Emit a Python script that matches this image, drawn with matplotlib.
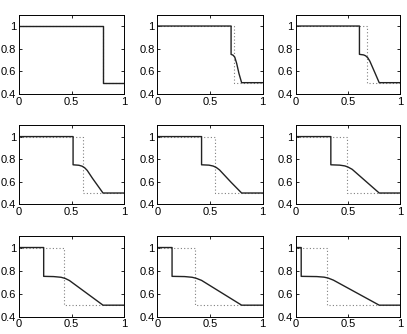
import matplotlib
matplotlib.use("Agg")
import matplotlib.pyplot as plt

plt.rcParams['font.family'] = ['Liberation Sans', 'DejaVu Sans']

# Dotted (initial) step position per panel
dotted_jump = [0.80, 0.73, 0.68, 0.61, 0.55, 0.49, 0.425, 0.36, 0.30]

# Solid curves
solid_x = [
    [0, 0.80, 0.80, 1.0],
    [0, 0.70, 0.70, 0.72, 0.735, 0.753, 0.775, 0.80, 1.0],
    [0, 0.61, 0.61, 0.65, 0.67, 0.69, 0.71, 0.76, 0.80, 1.0],
    [0, 0.515, 0.515, 0.57, 0.60, 0.625, 0.65, 0.70, 0.80, 1.0],
    [0, 0.42, 0.42, 0.49, 0.53, 0.56, 0.59, 0.70, 0.80, 1.0],
    [0, 0.335, 0.335, 0.42, 0.47, 0.50, 0.54, 0.80, 1.0],
    [0, 0.235, 0.235, 0.33, 0.40, 0.44, 0.48, 0.80, 1.0],
    [0, 0.14, 0.14, 0.26, 0.33, 0.37, 0.42, 0.80, 1.0],
    [0, 0.05, 0.05, 0.20, 0.27, 0.31, 0.36, 0.80, 1.0],
]
solid_y = [
    [1, 1, 0.5, 0.5],
    [1, 1, 0.75, 0.742, 0.725, 0.67, 0.58, 0.5, 0.5],
    [1, 1, 0.75, 0.745, 0.737, 0.72, 0.69, 0.585, 0.5, 0.5],
    [1, 1, 0.75, 0.746, 0.738, 0.724, 0.70, 0.63, 0.5, 0.5],
    [1, 1, 0.75, 0.747, 0.739, 0.726, 0.705, 0.595, 0.5, 0.5],
    [1, 1, 0.75, 0.747, 0.74, 0.73, 0.71, 0.5, 0.5],
    [1, 1, 0.75, 0.748, 0.742, 0.732, 0.714, 0.5, 0.5],
    [1, 1, 0.75, 0.748, 0.742, 0.733, 0.715, 0.5, 0.5],
    [1, 1, 0.75, 0.748, 0.743, 0.735, 0.717, 0.5, 0.5],
]

x_ticks = [0, 0.5, 1]
x_labels = ['0', '0.5', '1']
y_ticks = [0.4, 0.6, 0.8, 1.0]
y_labels = ['0.4', '0.6', '0.8', '1']

W, H = 407, 334
fig = plt.figure(figsize=(W / 100, H / 100), dpi=100)

col_px = [(19, 124), (157.3, 262.7), (296, 400)]
row_px = [(14.7, 94), (125.3, 204.3), (236, 316.7)]

for i in range(9):
    r, c = divmod(i, 3)
    x0, x1 = col_px[c]
    t, b = row_px[r]
    ax = fig.add_axes([x0 / W, 1 - b / H, (x1 - x0) / W, (b - t) / H])
    dj = dotted_jump[i]
    ax.plot([0, dj, dj, 1], [1, 1, 0.5, 0.5], color='#808080', lw=0.8,
            linestyle=(0, (1, 2)))
    ax.plot(solid_x[i], solid_y[i], color='#222222', lw=1.0)
    ax.set_xlim(0, 1)
    ax.set_ylim(0.4, 1.1)
    ax.set_xticks(x_ticks)
    ax.set_xticklabels(x_labels)
    ax.set_yticks(y_ticks)
    ax.set_yticklabels(y_labels)
    ax.tick_params(direction='in', length=2.5, width=0.6, top=True, right=True,
                   labelsize=8, pad=2)
    for s in ax.spines.values():
        s.set_linewidth(0.7)

fig.savefig('out.png', dpi=100)
